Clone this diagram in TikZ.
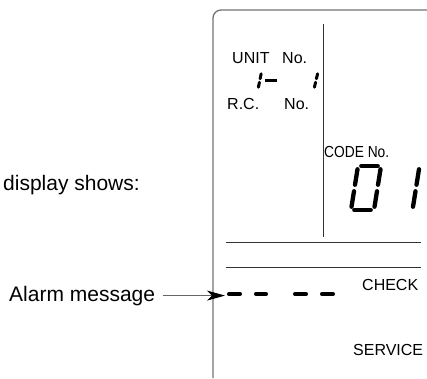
\documentclass[tikz,border=0pt]{standalone}
\usepackage{fontspec}
\setmainfont{Liberation Sans}
\usepackage{graphicx}
\usetikzlibrary{arrows.meta}

\begin{document}
\begin{tikzpicture}[x=1pt,y=-1pt,
        lbl/.style={inner sep=0pt, font=\fontsize{16}{16}\selectfont},
        bigtext/.style={inner sep=0pt, font=\fontsize{21}{21}\selectfont},
        segsmall/.style={line width=3pt, line cap=round, shorten <=1.8pt, shorten >=1.8pt},
        segbig/.style={line width=4.3pt, line cap=round, shorten <=3.3pt, shorten >=3.3pt},
        frameline/.style={draw=black!55, line width=1.3pt},
        rule/.style={draw=black!80, line width=0.8pt}]

        \useasboundingbox (0,0) rectangle (427,378);

        %frame of the display
        \draw[frameline, rounded corners=8pt] (213,378) -- (213,10) -- (428,10);

        %lines
        \draw[rule] (323,24) -- (323,237);
        \draw[rule] (226,242) -- (421,242);
        \draw[rule] (226,267) -- (421,267);

        %texts
        \node[bigtext, anchor=base west] (display) at (3,190) {display shows:};
        \node[bigtext, anchor=base west] (alarm) at (9,301) {Alarm message};
        \node[lbl, anchor=base west] (unit) at (232,63) {UNIT};
        \node[lbl, anchor=base west] (unitno) at (282,63) {No.};
        \node[lbl, anchor=base west] (rc) at (227,109) {R.C.};
        \node[lbl, anchor=base west] (rcno) at (284,109) {No.};
        \node[lbl, anchor=base west] (code) at (324,157) {\scalebox{0.86}[1]{CODE No.}};
        \node[lbl, anchor=base west] (check) at (362,290) {CHECK};
        \node[lbl, anchor=base west] (service) at (353,355) {SERVICE};

        %arrow to the alarm message
        \coordinate (alarmtip) at (225,295);
        \draw[black!60, line width=0.8pt, -{Stealth[length=18pt,width=10pt,inset=5pt,black]}, shorten <=8pt]
            (alarm.east) -- (alarm.east -| alarmtip);

        %alarm message dashes
        \foreach \a/\b in {227/242, 254/268, 293/308, 320/335}
            \draw[line width=4.5pt, line cap=round] (\a+2.2,294) -- (\b-2.2,294);

        %unit number 1-1
        \draw[segsmall] (261.5,72) -- (259.8,80.5);
        \draw[segsmall] (259.8,80.5) -- (258,89);
        \draw[line width=3pt] (265,80) -- (277,80);
        \draw[segsmall] (318,72) -- (316,80.5);
        \draw[segsmall] (316,80.5) -- (314,89);

        %code number 01
        \draw[segbig] (358,166) -- (381,166);
        \draw[segbig] (358,166) -- (354.5,188);
        \draw[segbig] (354.5,188) -- (351,210);
        \draw[segbig] (381,166) -- (377.5,188);
        \draw[segbig] (377.5,188) -- (374,210);
        \draw[segbig] (351,210) -- (374,210);
        \draw[segbig] (419.5,166) -- (416,188);
        \draw[segbig] (416,188) -- (412.5,210);

\end{tikzpicture}
\end{document}
